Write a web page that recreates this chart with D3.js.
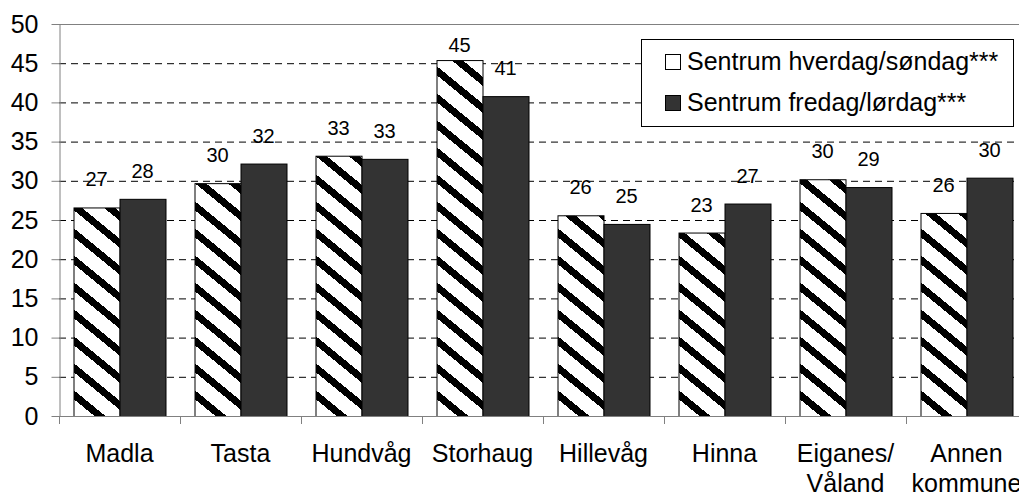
<!DOCTYPE html>
<html>
<head>
<meta charset="utf-8">
<script src="https://cdn.jsdelivr.net/npm/d3@7.9.0/dist/d3.min.js"></script>
<style>
  body { margin: 0; background: #fff; }
  svg { display: block; font-family: "Liberation Sans", Arial, sans-serif; }
</style>
</head>
<body>
<div id="chart"></div>
<script>
const categories = [
  ['Madla'], ['Tasta'], ['Hundvåg'], ['Storhaug'], ['Hillevåg'],
  ['Hinna'], ['Eiganes/', 'Våland'], ['Annen', 'kommune']
];
const seriesNames = ['Sentrum hverdag/søndag***', 'Sentrum fredag/lørdag***'];
const weekdayValues = [26.6, 29.7, 33.2, 45.4, 25.6, 23.4, 30.2, 25.9];
const weekendValues = [27.7, 32.2, 32.8, 40.8, 24.5, 27.1, 29.2, 30.4];
const yTicks = [0, 5, 10, 15, 20, 25, 30, 35, 40, 45, 50];

const width = 1019, height = 497;
const margin = { top: 24, left: 59, bottom: 81 };
const plotRight = margin.left + 8 * 121;
const plotBottom = height - margin.bottom;

const svg = d3.select('#chart').append('svg')
  .attr('width', width)
  .attr('height', height);

// hatch for the first series
const defs = svg.append('defs');
const pat = defs.append('pattern')
  .attr('id', 'hatch')
  .attr('patternUnits', 'userSpaceOnUse')
  .attr('width', 33)
  .attr('height', 27);
pat.append('rect').attr('width', 33).attr('height', 27).attr('fill', '#fff');
pat.append('path')
  .attr('d', 'M0,0 L33,27 L33,36 L0,9 Z M0,-27 L33,0 L33,9 L0,-18 Z')
  .attr('fill', '#000')
  .attr('shape-rendering', 'crispEdges');

const keys = categories.map(d => d.join(' '));

const x0 = d3.scaleBand()
  .domain(keys)
  .range([margin.left, plotRight]);

const x1 = d3.scaleBand()
  .domain([0, 1])
  .range([14.5, x0.bandwidth() - 14.5]);

const y = d3.scaleLinear()
  .domain([0, 50])
  .range([plotBottom, margin.top]);

// gridlines
svg.append('g')
  .selectAll('line')
  .data(yTicks.filter(d => d > 0 && d < 50))
  .join('line')
  .attr('x1', margin.left)
  .attr('x2', plotRight)
  .attr('y1', d => y(d) + 0.5)
  .attr('y2', d => y(d) + 0.5)
  .attr('stroke', '#000')
  .attr('stroke-dasharray', '7,5');

// plot frame top/right
svg.append('path')
  .attr('d', `M${margin.left},${y(50) + 0.5}H${plotRight + 0.5}V${plotBottom}`)
  .attr('fill', 'none')
  .attr('stroke', '#808080');

const rows = keys.map((k, i) => ({ key: k, values: [weekdayValues[i], weekendValues[i]] }));

const groups = svg.append('g')
  .selectAll('g')
  .data(rows)
  .join('g')
  .attr('transform', d => `translate(${x0(d.key)},0)`);

groups.selectAll('rect')
  .data(d => d.values.map((v, s) => ({ v, s })))
  .join('rect')
  .attr('x', d => x1(d.s) + 0.5)
  .attr('y', d => y(d.v) + 0.5)
  .attr('width', x1.bandwidth())
  .attr('height', d => plotBottom - y(d.v))
  .attr('fill', d => d.s === 0 ? 'url(#hatch)' : '#333333')
  .attr('stroke', '#000')
  .attr('stroke-width', 1);

// value labels
groups.selectAll('text')
  .data(d => d.values.map((v, s) => ({ v, s })))
  .join('text')
  .attr('x', d => x1(d.s) + x1.bandwidth() / 2)
  .attr('y', d => Math.max(y(d.v) - 21, margin.top + 28))
  .attr('text-anchor', 'middle')
  .attr('font-size', 20)
  .attr('fill', '#000')
  .text(d => Math.round(d.v));

// y axis
const yAxis = svg.append('g')
  .attr('transform', `translate(${margin.left + 0.5},0)`)
  .call(d3.axisLeft(y).tickValues(yTicks).tickSize(8).tickPadding(13).tickSizeOuter(0));
yAxis.select('.domain').attr('stroke', '#808080');
yAxis.selectAll('.tick line').attr('stroke', '#808080');
yAxis.selectAll('.tick text')
  .attr('font-size', 25)
  .attr('font-family', '"Liberation Sans", Arial, sans-serif')
  .attr('fill', '#000');

// x axis
svg.append('line')
  .attr('x1', margin.left)
  .attr('x2', plotRight)
  .attr('y1', plotBottom + 0.5)
  .attr('y2', plotBottom + 0.5)
  .attr('stroke', '#808080');

svg.append('g')
  .selectAll('line')
  .data(d3.range(keys.length + 1))
  .join('line')
  .attr('x1', i => margin.left + i * x0.bandwidth() + 0.5)
  .attr('x2', i => margin.left + i * x0.bandwidth() + 0.5)
  .attr('y1', plotBottom)
  .attr('y2', plotBottom + 8)
  .attr('stroke', '#808080');

const xLabels = svg.append('g')
  .selectAll('text')
  .data(categories)
  .join('text')
  .attr('x', (d, i) => x0(keys[i]) + x0.bandwidth() / 2)
  .attr('y', 462)
  .attr('text-anchor', 'middle')
  .attr('font-size', 25)
  .attr('fill', '#000');

xLabels.selectAll('tspan')
  .data(d => d)
  .join('tspan')
  .attr('x', function () { return this.parentNode.getAttribute('x'); })
  .attr('dy', (d, i) => i === 0 ? 0 : 30)
  .text(d => d);

// legend
const legend = svg.append('g');
legend.append('rect')
  .attr('x', 641.5)
  .attr('y', 39.5)
  .attr('width', 372)
  .attr('height', 87)
  .attr('fill', '#fff')
  .attr('stroke', '#000');

const items = legend.selectAll('g.item')
  .data(seriesNames)
  .join('g')
  .attr('class', 'item')
  .attr('transform', (d, i) => `translate(665,${62 + i * 41})`);

items.append('rect')
  .attr('x', 0.5)
  .attr('y', -7.5)
  .attr('width', 15)
  .attr('height', 15)
  .attr('fill', (d, i) => i === 0 ? '#fff' : '#333333')
  .attr('stroke', '#000');

items.append('text')
  .attr('x', 22)
  .attr('y', 8)
  .attr('font-size', 25)
  .attr('fill', '#000')
  .text(d => d);
</script>
</body>
</html>
